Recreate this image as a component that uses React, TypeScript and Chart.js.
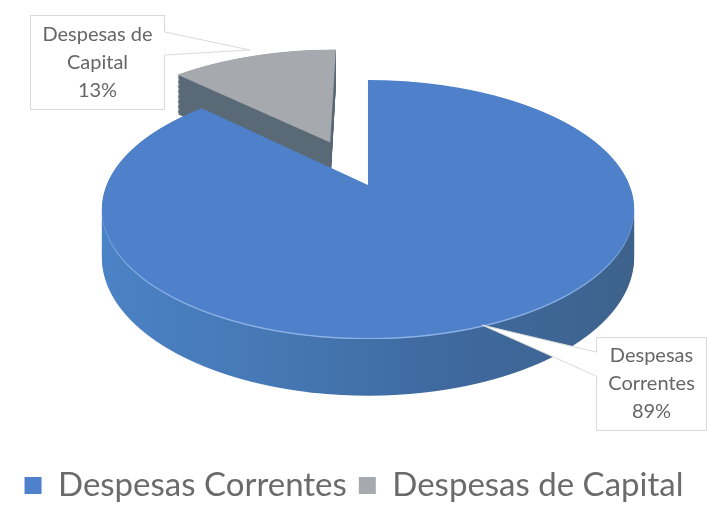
import React, { useEffect, useRef } from "react";
import { Chart, registerables } from "chart.js";

Chart.register(...registerables);

const categories = ["Despesas Correntes", "Despesas de Capital"];
const values = [89, 13];
const sliceColors = ["#4f81cb", "#a6a9ae"];
const calloutLines = [["Despesas", "Correntes"], ["Despesas de", "Capital"]];

// Projection of the pie's plane (a tilted camera looking at a flat disc)
const CX = 368, CY = 185, A = 261.4, B = 124.5, K = 0.186;
const DEPTH = 47;
const EXPLODE = [0, 0.396];

function drawPlane(ctx: CanvasRenderingContext2D, el: any, D: number, ex: number, ey: number, fill: any, H: number) {
  const R = el.outerRadius;
  const saved = el.options;
  el.options = Object.assign(Object.create(saved), { backgroundColor: fill, borderWidth: 0 });
  for (let y = 0; y < H; y++) {
    const t = y + 0.5 - CY;
    const v = (t - D) / (B + t * K);
    if (Math.abs(v - ey) > 1 || Math.abs(1 - K * v) < 0.05) continue;
    const w = 1 - K * v;
    ctx.save();
    ctx.beginPath();
    ctx.rect(0, y, 708, 1);
    ctx.clip();
    ctx.translate(CX, y + 0.5);
    ctx.scale(A / (w * R), (B + K * D) / (w * w * R));
    ctx.translate(-el.x + ex * R, -el.y + (ey - v) * R);
    el.draw(ctx);
    ctx.restore();
  }
  el.options = saved;
}

const projected3D = {
  id: "projected3D",
  beforeDatasetsDraw(chart: any) {
    const ctx: CanvasRenderingContext2D = chart.ctx;
    const arcs = chart.getDatasetMeta(0).data;
    const H = chart.height;
    const blue = arcs[0];
    const grey = arcs[1];
    const R = blue.outerRadius;
    const mid = (grey.startAngle + grey.endAngle) / 2;
    const ex = Math.cos(mid) * EXPLODE[1];
    const ey = Math.sin(mid) * EXPLODE[1];

    const g = ctx.createLinearGradient(blue.x - R, 0, blue.x + R, 0);
    g.addColorStop(0, "#4b84c8");
    g.addColorStop(0.35, "#4678b4");
    g.addColorStop(0.6, "#3f6aa0");
    g.addColorStop(1, "#3d6189");

    for (let d = DEPTH; d > 0; d -= 1.5) drawPlane(ctx, grey, d, ex, ey, "#5a6a77", H);
    drawPlane(ctx, grey, 0, ex, ey, sliceColors[1], H);
    for (let d = DEPTH; d > 1; d -= 1.5) drawPlane(ctx, blue, d, 0, 0, g, H);
    drawPlane(ctx, blue, 1.2, 0, 0, "#8db2e6", H);
    drawPlane(ctx, blue, 0, 0, 0, sliceColors[0], H);
    return false;
  },
  afterDraw(chart: any) {
    const ctx: CanvasRenderingContext2D = chart.ctx;
    const boxes = [
      { x: 596, y: 337, w: 111, h: 94, poly: [[596, 352], [482, 325], [596, 376]] },
      { x: 30, y: 15, w: 135, h: 95, poly: [[165, 32], [250, 50], [165, 55]] },
    ];
    ctx.save();
    boxes.forEach((b, i) => {
      ctx.fillStyle = "#ffffff";
      ctx.strokeStyle = "#d9d9d9";
      ctx.lineWidth = 1;
      ctx.fillRect(b.x, b.y, b.w, b.h);
      ctx.strokeRect(b.x + 0.5, b.y + 0.5, b.w - 1, b.h - 1);
      ctx.beginPath();
      ctx.moveTo(b.poly[0][0], b.poly[0][1]);
      ctx.lineTo(b.poly[1][0], b.poly[1][1]);
      ctx.lineTo(b.poly[2][0], b.poly[2][1]);
      ctx.closePath();
      ctx.fill();
      ctx.beginPath();
      ctx.moveTo(b.poly[0][0], b.poly[0][1]);
      ctx.lineTo(b.poly[1][0], b.poly[1][1]);
      ctx.lineTo(b.poly[2][0], b.poly[2][1]);
      ctx.stroke();
      ctx.fillStyle = "#ffffff";
      ctx.fillRect(b.poly[0][0] - 1, b.poly[0][1] + 0.5, 2, b.poly[2][1] - b.poly[0][1] - 1);
      ctx.fillStyle = "#666666";
      ctx.font = "20px Lato";
      ctx.textAlign = "center";
      ctx.textBaseline = "middle";
      const lines = [...calloutLines[i], `${values[i]}%`];
      lines.forEach((l, j) => ctx.fillText(l, b.x + b.w / 2, b.y + b.h / 2 + (j - 1) * 28));
    });
    ctx.restore();
  },
};

export default function App() {
  const ref = useRef<HTMLCanvasElement>(null);
  useEffect(() => {
    const chart = new Chart(ref.current!, {
      type: "pie",
      data: {
        labels: categories,
        datasets: [{ data: values, backgroundColor: sliceColors, borderWidth: 0 }],
      },
      options: {
        responsive: false,
        animation: false,
        layout: { padding: { bottom: 0 } },
        plugins: {
          tooltip: { enabled: false },
          legend: {
            position: "bottom",
            labels: {
              boxWidth: 17,
              boxHeight: 17,
              padding: 12,
              color: "#6b6b6b",
              font: { family: "Lato", size: 33 },
            },
          },
        },
      },
      plugins: [projected3D],
    } as any);
    return () => chart.destroy();
  }, []);
  return (
    <div style={{ position: "absolute", left: 0, top: 0 }}>
      <canvas ref={ref} width={708} height={512} style={{ display: "block", filter: "blur(0.6px)" }} />
    </div>
  );
}
